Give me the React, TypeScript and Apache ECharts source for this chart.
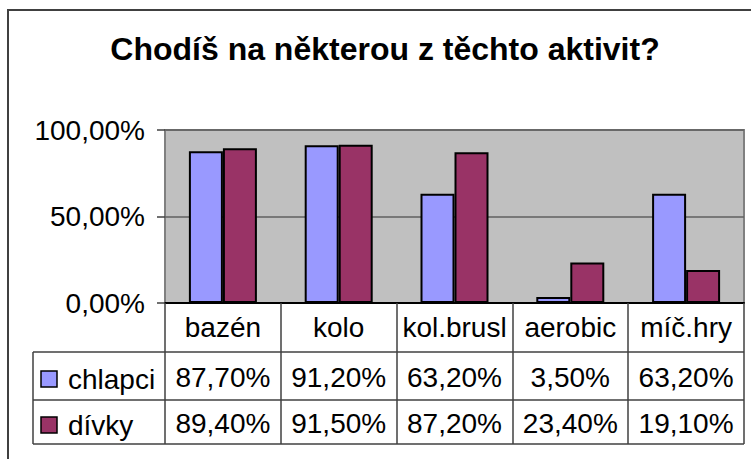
import React, { useEffect, useRef } from "react";
import * as echarts from "echarts";

const categories = ["bazén", "kolo", "kol.brusl", "aerobic", "míč.hry"];
const seriesNames = ["chlapci", "dívky"];
const chlapci = [87.7, 91.2, 63.2, 3.5, 63.2];
const divky = [89.4, 91.5, 87.2, 23.4, 19.1];
const seriesColors = ["#9999FF", "#993366"];
const titleText = "Chodíš na některou z těchto aktivit?";

const FONT = "'Liberation Sans', Arial, sans-serif";
const fmt = (v: number) => v.toFixed(2).replace(".", ",") + "%";

const GRID_L = 165;
const GRID_R = 744;
const GRID_T = 130;
const GRID_B = 303;
const TABLE_L = 33;
const ROW_LINES = [352, 400, 444];
const ROW_Y = [377, 423];

export default function App() {
  const ref = useRef<HTMLDivElement>(null);
  useEffect(() => {
    document.body.style.margin = "0";
    if (!ref.current) return;
    const chart = echarts.init(ref.current, undefined, { renderer: "svg" });
    const values = [chlapci, divky];
    chart.setOption({
      animation: false,
      backgroundColor: "#ffffff",
      grid: {
        left: GRID_L,
        top: GRID_T,
        right: 751 - GRID_R,
        bottom: 459 - GRID_B,
        show: true,
        backgroundColor: "#C0C0C0",
        borderColor: "#808080",
        borderWidth: 2,
      },
      xAxis: {
        type: "category",
        data: categories,
        boundaryGap: true,
        axisLine: { show: true, lineStyle: { color: "#000000", width: 2 } },
        axisTick: {
          show: true,
          interval: 0,
          alignWithLabel: false,
          length: ROW_LINES[2] - GRID_B,
          lineStyle: { color: "#404040", width: 1.5 },
        },
        axisLabel: {
          interval: 0,
          margin: 10,
          fontSize: 28,
          fontFamily: FONT,
          color: "#000000",
        },
      },
      yAxis: {
        type: "value",
        min: 0,
        max: 100,
        interval: 50,
        axisLine: { show: false },
        axisTick: { show: true, length: 8, lineStyle: { color: "#404040", width: 1.5 } },
        axisLabel: {
          margin: 20,
          fontSize: 28,
          fontFamily: FONT,
          color: "#000000",
          formatter: (v: number) => fmt(v),
        },
        splitLine: { show: true, lineStyle: { color: "#606060", width: 1.5 } },
      },
      series: seriesNames.map((name, i) => ({
        name,
        type: "bar",
        data: values[i],
        barWidth: 34,
        barGap: "0%",
        itemStyle: { color: seriesColors[i], borderColor: "#000000", borderWidth: 2 },
      })),
    });

    const centers = categories.map(
      (c) => (chart.convertToPixel({ xAxisIndex: 0 }, c) as unknown as number)
    );
    const lineStyle = { stroke: "#404040", lineWidth: 1.5 };
    const elements: any[] = [
      {
        type: "rect",
        shape: { x: 8, y: 10, width: 900, height: 600 },
        style: { fill: "none", stroke: "#404040", lineWidth: 2 },
        z: 100,
      },
      {
        type: "text",
        x: 385,
        y: 49,
        style: {
          text: titleText,
          fontSize: 32,
          fontWeight: "bold",
          fontFamily: FONT,
          fill: "#000000",
          align: "center",
          verticalAlign: "middle",
        },
      },
      {
        type: "line",
        shape: { x1: TABLE_L, y1: ROW_LINES[0], x2: TABLE_L, y2: ROW_LINES[2] },
        style: lineStyle,
      },
    ];
    ROW_LINES.forEach((y) => {
      elements.push({
        type: "line",
        shape: { x1: TABLE_L, y1: y, x2: GRID_R, y2: y },
        style: lineStyle,
      });
    });
    seriesNames.forEach((name, i) => {
      elements.push({
        type: "rect",
        shape: { x: 41, y: ROW_Y[i] - 6, width: 16, height: 16 },
        style: { fill: seriesColors[i], stroke: "#000000", lineWidth: 1.5 },
      });
      elements.push({
        type: "text",
        x: 68,
        y: ROW_Y[i] + 2,
        style: {
          text: name,
          fontSize: 28,
          fontFamily: FONT,
          fill: "#000000",
          align: "left",
          verticalAlign: "middle",
        },
      });
      values[i].forEach((v, j) => {
        elements.push({
          type: "text",
          x: centers[j],
          y: ROW_Y[i],
          style: {
            text: fmt(v),
            fontSize: 28,
            fontFamily: FONT,
            fill: "#000000",
            align: "center",
            verticalAlign: "middle",
          },
        });
      });
    });
    chart.setOption({ graphic: { elements } });
    return () => chart.dispose();
  }, []);
  return <div ref={ref} style={{ width: 751, height: 459 }} />;
}
